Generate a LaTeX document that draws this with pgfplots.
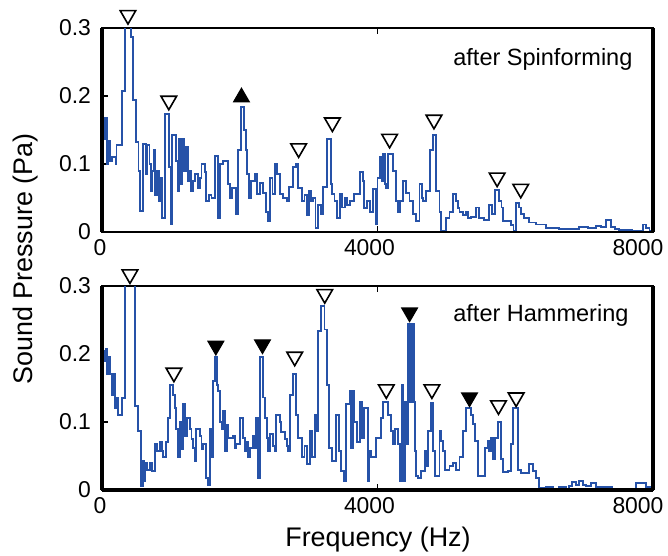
\documentclass[border=0pt]{standalone}
\usepackage{fontspec}
\setmainfont{Liberation Sans}
\usepackage{pgfplots}
\usepackage{pgfplotstable}
\pgfplotsset{compat=1.18}
\definecolor{specblue}{RGB}{38,82,168}

\pgfplotstableread{
f p
0 0.08
15 0.137
40 0.167
70 0.10
95 0.134
120 0.105
145 0.11
200 0.10
210 0.128
285 0.208
335 0.302
415 0.287
455 0.194
500 0.132
530 0.09
555 0.031
595 0.13
640 0.085
660 0.128
690 0.10
705 0.06
725 0.09
750 0.12
775 0.055
800 0.09
830 0.045
850 0.08
870 0.021
915 0.174
975 0.095
995 0.011
1015 0.142
1075 0.105
1100 0.06
1120 0.137
1145 0.07
1165 0.137
1195 0.09
1215 0.125
1245 0.075
1270 0.09
1290 0.06
1320 0.075
1350 0.085
1400 0.065
1420 0.08
1445 0.10
1490 0.088
1515 0.046
1560 0.055
1590 0.05
1640 0.112
1685 0.021
1710 0.10
1760 0.105
1830 0.07
1860 0.05
1890 0.065
1945 0.026
1975 0.12
2020 0.184
2065 0.15
2085 0.12
2110 0.085
2135 0.05
2165 0.075
2215 0.085
2250 0.056
2290 0.072
2340 0.058
2375 0.03
2410 0.016
2440 0.08
2475 0.056
2510 0.10
2545 0.085
2580 0.056
2630 0.05
2680 0.045
2720 0.066
2770 0.095
2820 0.10
2850 0.065
2875 0.065
2900 0.045
2940 0.055
2975 0.025
3010 0.06
3040 0.045
3065 0.05
3100 0.006
3135 0.04
3175 0.026
3210 0.066
3265 0.137
3320 0.07
3345 0.056
3375 0.045
3410 0.02
3450 0.056
3485 0.036
3525 0.05
3560 0.04
3595 0.045
3630 0.045
3665 0.056
3740 0.088
3790 0.075
3810 0.035
3850 0.045
3885 0.03
3930 0.063
3980 0.011
4000 0.08
4030 0.11
4060 0.075
4085 0.115
4105 0.07
4125 0.065
4150 0.115
4225 0.09
4270 0.046
4300 0.03
4330 0.046
4370 0.075
4420 0.058
4465 0.046
4515 0.026
4560 0.016
4610 0.07
4640 0.05
4660 0.046
4710 0.06
4760 0.12
4805 0.142
4855 0.06
4900 0.03
4925 0.002
4995 0.02
5045 0.03
5090 0.056
5140 0.045
5165 0.035
5190 0.03
5240 0.025
5285 0.03
5320 0.02
5360 0.022
5430 0.036
5480 0.02
5550 0.018
5625 0.04
5660 0.026
5700 0.062
5770 0.045
5800 0.036
5820 0.016
5940 0.01
5975 0.002
6010 0.043
6060 0.036
6090 0.026
6130 0.02
6205 0.014
6300 0.011
6450 0.006
6640 0.004
6735 0.005
6930 0.008
7050 0.006
7170 0.009
7250 0.007
7315 0.018
7390 0.008
7450 0.005
7510 0.003
7700 0.002
7850 0.011
7895 0.006
7950 0.002
8000 0.002
}\topdata

\pgfplotstableread{
f p
0 0.155
20 0.205
45 0.19
60 0.207
75 0.17
95 0.195
120 0.17
140 0.14
160 0.17
190 0.12
210 0.135
236 0.11
285 0.135
335 0.36
480 0.123
526 0.087
565 0.006
590 0.043
610 0.013
630 0.04
650 0.03
695 0.04
730 0.028
770 0.067
800 0.058
840 0.07
870 0.058
890 0.048
935 0.07
960 0.106
985 0.155
1030 0.14
1055 0.12
1080 0.09
1105 0.048
1130 0.10
1155 0.06
1180 0.126
1205 0.08
1230 0.106
1275 0.09
1300 0.075
1325 0.062
1350 0.043
1370 0.09
1420 0.08
1445 0.06
1470 0.067
1515 0.018
1540 0.008
1565 0.09
1590 0.048
1615 0.16
1640 0.195
1665 0.155
1690 0.145
1710 0.10
1735 0.09
1760 0.116
1785 0.058
1810 0.096
1835 0.077
1855 0.077
1905 0.08
1930 0.062
1950 0.067
2000 0.106
2050 0.077
2075 0.058
2100 0.07
2125 0.048
2145 0.062
2195 0.08
2220 0.062
2240 0.106
2265 0.018
2290 0.195
2340 0.136
2365 0.106
2390 0.077
2415 0.058
2435 0.082
2480 0.065
2505 0.058
2530 0.11
2580 0.1
2605 0.085
2630 0.085
2655 0.075
2680 0.065
2705 0.058
2725 0.14
2775 0.17
2820 0.11
2845 0.077
2870 0.077
2900 0.048
2940 0.065
2975 0.038
3015 0.087
3050 0.048
3090 0.11
3115 0.087
3135 0.234
3180 0.27
3230 0.236
3265 0.155
3290 0.062
3340 0.043
3400 0.11
3435 0.058
3475 0.028
3510 0.013
3545 0.126
3595 0.146
3620 0.062
3640 0.146
3665 0.10
3700 0.07
3740 0.13
3775 0.077
3810 0.12
3860 0.013
3880 0.058
3905 0.048
3980 0.077
4050 0.106
4085 0.13
4150 0.11
4200 0.087
4225 0.067
4250 0.09
4300 0.067
4320 0.013
4335 0.067
4350 0.155
4370 0.013
4395 0.13
4420 0.067
4440 0.244
4452 0.13
4464 0.244
4476 0.13
4488 0.244
4500 0.13
4512 0.244
4530 0.13
4540 0.058
4565 0.02
4590 0.018
4635 0.028
4685 0.058
4710 0.035
4730 0.087
4780 0.128
4805 0.058
4830 0.02
4855 0.02
4900 0.087
4925 0.072
4950 0.058
4975 0.03
4995 0.03
5045 0.035
5090 0.04
5140 0.03
5190 0.048
5240 0.087
5285 0.12
5360 0.11
5385 0.097
5410 0.072
5455 0.02
5555 0.062
5600 0.072
5625 0.058
5650 0.077
5675 0.045
5700 0.077
5745 0.10
5795 0.045
5820 0.026
5890 0.028
5940 0.067
5965 0.12
5990 0.12
6035 0.03
6085 0.025
6205 0.038
6255 0.028
6300 0.018
6350 0.003
6450 0.005
6550 0.002
6640 0.004
6735 0.0
6780 0.006
6830 0.012
6880 0.007
6930 0.013
6980 0.008
7025 0.006
7100 0.01
7170 0.004
7300 0.005
7410 0.002
7560 0.0
7750 0.01
7895 0.004
7970 0.001
8000 0.001
}\botdata

\pgfplotsset{
  panel/.style={
    scale only axis, width=275.5bp, height=102bp,
    xmin=0, xmax=8000, ymin=0, ymax=0.3,
    xtick={0,4000,8000}, ytick={0,0.1,0.2,0.3},
    xticklabels={{0\hspace*{2bp}},{4000\hspace*{8bp}},{8000\hspace*{15bp}}},
    ytick pos=left, tick align=inside,
    major tick length=3bp,
    tick style={black, line width=0.6bp},
    axis line style={line width=0.7bp},
    tick label style={font=\fontsize{11.5}{13}\selectfont},
    /pgf/number format/assume math mode=true,
    /pgf/number format/1000 sep={},
    scaled y ticks=false, scaled x ticks=false,
    yticklabel style={xshift=-2bp},
  },
  overlay/.style={
    scale only axis, width=275.5bp, height=102bp,
    xmin=0, xmax=8000, ymin=0, ymax=0.3,
    hide axis, clip=false,
  },
  openmark/.style={only marks, mark=triangle*, mark size=4.5bp,
    mark options={rotate=180, fill=white, draw=black, line width=0.8bp}},
  fullmarkdown/.style={only marks, mark=triangle*, mark size=4.5bp,
    mark options={rotate=180, fill=black, draw=black, line width=0.6bp}},
  fullmarkup/.style={only marks, mark=triangle*, mark size=4.5bp,
    mark options={fill=black, draw=black, line width=0.6bp}},
}

\begin{document}
\begin{tikzpicture}
\useasboundingbox (-51bp,-33bp) rectangle (283bp,245bp);

% top panel
\begin{axis}[panel, name=top, at={(0bp,129bp)}, anchor=south west]
\addplot[const plot mark left, specblue, line width=0.95bp, no marks] table[x=f,y=p]{\topdata};
\node[anchor=north west, inner sep=0pt, font=\fontsize{11.8}{14}\selectfont] at (rel axis cs:0.637,0.902) {after Spinforming};
\end{axis}
\begin{axis}[overlay, at={(0bp,129bp)}, anchor=south west]
\addplot[openmark] coordinates {(377,0.319) (970,0.193) (2855,0.123) (3345,0.161) (4176,0.137) (4820,0.165) (5737,0.080) (6080,0.0635)};
\addplot[fullmarkup] coordinates {(2025,0.198)};
\end{axis}
\draw[line width=2.4bp] (top.south west) -- (top.north west);
\draw[line width=2bp] (top.south east) -- (top.north east);
\draw[line width=1.2bp] (top.south west) -- (top.south east);

% bottom panel
\begin{axis}[panel, name=bot, at={(0bp,0bp)}, anchor=south west]
\addplot[const plot mark left, specblue, line width=0.95bp, no marks] table[x=f,y=p]{\botdata};
\node[anchor=north west, inner sep=0pt, font=\fontsize{11.8}{14}\selectfont] at (rel axis cs:0.637,0.912) {after Hammering};
\end{axis}
\begin{axis}[overlay, at={(0bp,0bp)}, anchor=south west]
\addplot[openmark] coordinates {(406,0.317) (1044,0.1725) (2798,0.196) (3234,0.288) (4128,0.148) (4790,0.148) (5757,0.1245) (6013,0.136)};
\addplot[fullmarkdown] coordinates {(1653,0.212) (2330,0.214) (4466,0.261) (5336,0.136)};
\end{axis}
\draw[line width=2.4bp] (bot.south west) -- (bot.north west);
\draw[line width=2bp] (bot.south east) -- (bot.north east);
\draw[line width=2bp] (bot.south west) -- (bot.south east);

\node[rotate=90, anchor=north, inner sep=0pt, font=\fontsize{13.5}{16}\selectfont] at (-44.5bp,115.5bp) {Sound Pressure (Pa)};
\node[anchor=north, inner sep=0pt, font=\fontsize{13.5}{16}\selectfont] at (138bp,-18.5bp) {Frequency (Hz)};
\end{tikzpicture}
\end{document}
